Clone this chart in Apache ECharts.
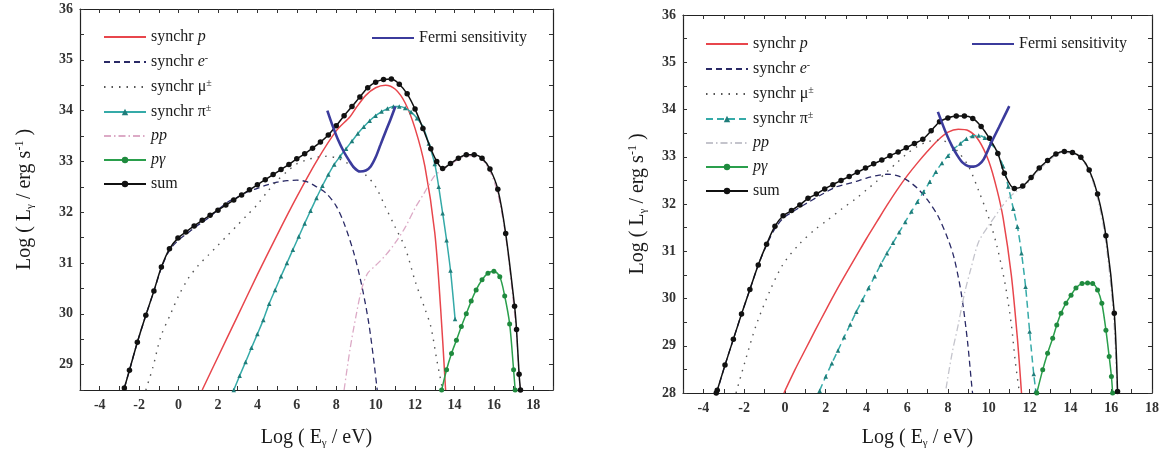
<!DOCTYPE html>
<html>
<head>
<meta charset="utf-8">
<script src="https://cdn.jsdelivr.net/npm/echarts@6/dist/echarts.min.js"></script>
<style>html,body{margin:0;padding:0;background:#fff;}#c{width:1164px;height:459px;}</style>
</head>
<body>
<div id="c"></div>
<script>
// ---------- LEFT PANEL DATA ----------
const L_synchrP = [[1.2,28.5],[2,29.15],[3,29.96],[4,30.77],[5,31.55],[6,32.3],[7,33.0],[8,33.6],[8.7,33.88],[9,34.05],[9.5,34.3],[10,34.45],[10.5,34.5],[11,34.42],[11.5,34.15],[12,33.65],[12.5,32.9],[13,31.6],[13.3,30.1],[13.55,28.5]];
const L_synchrE = [[-2.75,28.54],[-2.49,28.89],[-2.09,29.44],[-1.66,29.97],[-1.25,30.45],[-0.87,30.9],[-0.46,31.25],[0,31.45],[0.5,31.6],[1,31.75],[1.5,31.88],[2,32.05],[2.5,32.2],[3,32.3],[3.5,32.4],[4,32.47],[4.5,32.54],[5,32.59],[5.5,32.62],[6,32.63],[6.5,32.6],[7,32.5],[7.5,32.37],[8,32.12],[8.4,31.78],[8.9,31.19],[9.3,30.55],[9.65,29.82],[9.9,29.1],[10.08,28.5]];
const L_synchrMu = [[-1.66,28.5],[-1.3,28.95],[-0.9,29.55],[-0.4,30.0],[0,30.35],[0.5,30.7],[1,30.95],[1.5,31.15],[2,31.35],[2.5,31.55],[3,31.75],[3.5,31.95],[4,32.15],[4.5,32.4],[5,32.62],[5.5,32.8],[6,32.95],[6.5,33.03],[7,33.08],[7.5,33.1],[8,33.07],[8.5,32.98],[9,32.85],[9.5,32.73],[10,32.5],[10.5,32.1],[11,31.7],[11.5,31.3],[12,30.65],[12.5,30.1],[12.8,29.75],[13.1,29.1],[13.4,28.5]];
const L_synchrPi = [[2.8,28.5],[3.1,28.78],[3.4,29.05],[3.7,29.33],[4.0,29.6],[4.3,29.88],[4.6,30.2],[4.9,30.47],[5.2,30.74],[5.5,31.0],[5.8,31.26],[6.1,31.52],[6.4,31.78],[6.7,32.03],[7.0,32.28],[7.3,32.52],[7.6,32.74],[7.9,32.94],[8.2,33.1],[8.5,33.25],[8.8,33.4],[9.1,33.55],[9.4,33.68],[9.7,33.8],[10.0,33.9],[10.3,33.98],[10.6,34.04],[10.9,34.08],[11.2,34.08],[11.5,34.05],[11.8,33.97],[12.1,33.85],[12.4,33.68],[12.7,33.35],[13.0,32.95],[13.2,32.5],[13.4,31.98],[13.6,31.45],[13.8,30.85],[14.03,29.9]];
const L_pp = [[8.4,28.5],[8.7,29.3],[9.0,29.95],[9.3,30.5],[9.6,30.8],[10,30.95],[10.5,31.15],[11,31.4],[11.5,31.7],[12,32.08],[12.5,32.4],[13,32.72],[13.4,32.84],[13.8,32.94],[14.2,33.04],[14.6,33.11],[15,33.11],[15.4,33.04],[15.8,32.81],[16.2,32.36],[16.6,31.53],[17.0,30.2],[17.15,29.6],[17.28,28.8],[17.33,28.5]];
const L_pGamma = [[13.35,28.5],[13.6,28.9],[13.85,29.22],[14.1,29.48],[14.35,29.75],[14.6,30.0],[14.85,30.25],[15.1,30.47],[15.4,30.67],[15.7,30.8],[16.0,30.84],[16.3,30.73],[16.55,30.35],[16.8,29.8],[17.0,28.9],[17.08,28.5]];
const L_sum = [[-2.75,28.54],[-2.49,28.89],[-2.09,29.44],[-1.66,29.97],[-1.25,30.45],[-0.87,30.92],[-0.46,31.28],[-0.03,31.49],[0.37,31.61],[0.79,31.73],[1.2,31.84],[1.6,31.94],[2.0,32.04],[2.4,32.14],[2.8,32.24],[3.2,32.34],[3.6,32.44],[4.0,32.54],[4.4,32.64],[4.8,32.74],[5.2,32.84],[5.6,32.94],[6.0,33.05],[6.4,33.15],[6.8,33.26],[7.2,33.38],[7.6,33.52],[8.0,33.7],[8.4,33.9],[8.8,34.08],[9.2,34.27],[9.6,34.45],[10.0,34.56],[10.4,34.61],[10.8,34.62],[11.2,34.52],[11.6,34.33],[12.0,34.03],[12.4,33.65],[12.8,33.25],[13.1,33.0],[13.4,32.86],[13.8,32.96],[14.2,33.06],[14.6,33.13],[15.0,33.13],[15.4,33.06],[15.8,32.85],[16.2,32.45],[16.6,31.58],[17.05,30.15],[17.15,29.69],[17.28,28.81],[17.35,28.5]];
const L_fermi = [[7.55,34.0],[7.8,33.72],[8.1,33.42],[8.4,33.18],[8.65,33.02],[8.9,32.88],[9.2,32.8],[9.5,32.82],[9.75,32.9],[10.0,33.08],[10.25,33.33],[10.5,33.58],[10.75,33.82],[11.0,34.08]];

// ---------- RIGHT PANEL DATA ----------
const R_synchrP = [[-0.05,28.0],[0.5,28.5],[1,28.92],[1.5,29.34],[2,29.75],[2.5,30.15],[3,30.53],[3.5,30.9],[4,31.27],[4.5,31.62],[5,31.97],[5.5,32.3],[6,32.6],[6.5,32.87],[7,33.12],[7.5,33.35],[8,33.52],[8.5,33.58],[9,33.55],[9.5,33.35],[10,32.9],[10.4,32.3],[10.7,31.7],[11.1,30.5],[11.4,29.15],[11.6,28.0]];
const R_synchrE = [[-3.35,28.0],[-2.94,28.59],[-2.53,29.14],[-2.13,29.67],[-1.72,30.19],[-1.31,30.71],[-0.9,31.13],[-0.49,31.48],[-0.09,31.7],[0.32,31.82],[0.73,31.93],[1.2,32.05],[1.8,32.2],[2.5,32.36],[3,32.42],[3.5,32.48],[4,32.55],[4.5,32.6],[5,32.63],[5.5,32.6],[6,32.5],[6.5,32.33],[7,32.08],[7.5,31.75],[8,31.25],[8.3,30.85],[8.65,30.1],[8.95,29.1],[9.15,28.2],[9.2,28.0]];
const R_synchrMu = [[-2.4,28.0],[-1.9,28.75],[-1.4,29.45],[-0.75,30.15],[-0.1,30.72],[0.7,31.15],[1.5,31.47],[2,31.63],[2.8,31.9],[3.5,32.12],[4,32.3],[4.5,32.48],[5,32.68],[5.5,32.88],[6,33.07],[6.5,33.22],[7,33.32],[7.5,33.35],[8,33.3],[8.5,33.1],[9,32.8],[9.5,32.28],[10,31.7],[10.4,31.1],[10.8,30.3],[11.1,29.45],[11.3,28.65],[11.5,28.0]];
const R_synchrPi = [[1.7,28.05],[2.0,28.35],[2.3,28.63],[2.6,28.9],[2.9,29.18],[3.2,29.45],[3.5,29.72],[3.8,29.97],[4.1,30.22],[4.4,30.47],[4.7,30.72],[5.0,30.96],[5.3,31.18],[5.6,31.4],[5.9,31.62],[6.2,31.84],[6.5,32.05],[6.8,32.26],[7.1,32.47],[7.4,32.68],[7.7,32.87],[8.0,33.02],[8.3,33.17],[8.6,33.28],[8.9,33.38],[9.2,33.44],[9.5,33.45],[9.8,33.4],[10.1,33.28],[10.4,33.1],[10.7,32.8],[10.95,32.37],[11.2,31.9],[11.4,31.52],[11.6,30.96],[11.8,30.25],[12.0,29.3],[12.2,28.4],[12.3,28.05]];
const R_pp = [[7.9,28.1],[8.2,28.85],[8.5,29.45],[8.8,30.1],[9.1,30.6],[9.5,31.2],[10.0,31.55],[10.5,31.86],[11.0,32.14],[11.3,32.25],[11.7,32.36],[12.1,32.54],[12.5,32.74],[12.9,32.9],[13.3,33.04],[13.7,33.09],[14.1,33.07],[14.5,32.97],[14.9,32.7],[15.3,32.18],[15.7,31.3],[16.1,29.7],[16.3,28.0]];
const R_pGamma = [[12.35,28.0],[12.64,28.49],[12.88,28.84],[13.13,29.16],[13.33,29.44],[13.54,29.69],[13.78,29.9],[14.03,30.07],[14.27,30.22],[14.57,30.32],[14.84,30.33],[15.09,30.32],[15.33,30.18],[15.54,29.9],[15.74,29.33],[15.9,28.77],[16.01,28.35],[16.07,28.0]];
const R_sum = [[-3.37,28.0],[-3.32,28.06],[-2.94,28.59],[-2.53,29.14],[-2.13,29.67],[-1.72,30.19],[-1.31,30.71],[-0.9,31.15],[-0.49,31.53],[-0.09,31.75],[0.32,31.86],[0.73,31.98],[1.13,32.12],[1.54,32.21],[1.95,32.32],[2.35,32.41],[2.75,32.5],[3.15,32.58],[3.55,32.67],[3.95,32.76],[4.35,32.85],[4.75,32.93],[5.15,33.02],[5.55,33.1],[5.95,33.19],[6.35,33.28],[6.76,33.37],[7.17,33.55],[7.58,33.74],[7.99,33.82],[8.4,33.86],[8.8,33.86],[9.21,33.81],[9.62,33.64],[10.03,33.39],[10.44,33.07],[10.76,32.65],[11.25,32.33],[11.66,32.38],[12.07,32.56],[12.47,32.76],[12.88,32.92],[13.29,33.06],[13.7,33.11],[14.1,33.09],[14.51,32.99],[14.92,32.72],[15.33,32.21],[15.74,31.33],[16.15,29.69],[16.31,28.03]];
const R_fermi = [[7.5,33.95],[7.9,33.5],[8.2,33.22],[8.45,33.03],[8.7,32.88],[9.0,32.8],[9.25,32.79],[9.5,32.83],[9.75,32.95],[10.1,33.28],[10.5,33.63],[10.75,33.85],[11.0,34.07]];

const legendNames = ['synchr p','synchr e','synchr μ','synchr π','pp','pγ','sum'];
const markerless = ['synchr p','synchr e','synchr μ','pp','Fermi sensitivity'];
const xLabelsShown = [-4,-2,0,2,4,6,8,10,12,14,16,18];

// ---------- STYLE / BUILD ----------
const SERIF = 'Liberation Serif';
const richFmt = {
  'synchr p': '{n|synchr }{i|p}',
  'synchr e': '{n|synchr }{i|e}{s|-}',
  'synchr μ': '{n|synchr μ}{s|±}',
  'synchr π': '{n|synchr π}{s|±}',
  'pp': '{i|pp}',
  'pγ': '{i|pγ}',
  'sum': '{n|sum}',
  'Fermi sensitivity': '{n|Fermi sensitivity}'
};
const rich = {
  n: {fontFamily: SERIF, fontSize: 16, color: '#1a1a1a', lineHeight: 18},
  i: {fontFamily: SERIF, fontSize: 16, fontStyle: 'italic', color: '#1a1a1a', lineHeight: 18},
  s: {fontFamily: SERIF, fontSize: 10, color: '#1a1a1a', lineHeight: 10, verticalAlign: 'top'}
};
const strip = n => n.replace(/^R:/, '');

function xAxes(gi, max, nameGap) {
  const base = {
    type: 'value', gridIndex: gi, min: -5, max: max, interval: 1,
    axisLine: {show: true, onZero: false, lineStyle: {color: '#222', width: 1.2}},
    axisTick: {show: true, inside: true, length: 4, lineStyle: {color: '#333'}},
    splitLine: {show: false}
  };
  return [
    Object.assign({}, base, {position: 'bottom',
      name: '{n|Log ( E}{b|γ}{n| / eV)}', nameLocation: 'middle', nameGap: nameGap,
      nameTextStyle: {rich: {n: {fontFamily: SERIF, fontSize: 20, color: '#1a1a1a', lineHeight: 22}, b: {fontFamily: SERIF, fontSize: 11, color: '#1a1a1a', lineHeight: 11, verticalAlign: 'bottom'}}},
      axisLabel: {margin: 8, fontFamily: SERIF, fontSize: 14, fontWeight: 'bold', color: '#333',
        formatter: v => xLabelsShown.indexOf(v) >= 0 ? String(v) : ''}}),
    Object.assign({}, base, {position: 'top', axisLabel: {show: false}})
  ];
}
function yAxes(gi, min, nameGap) {
  const base = {
    type: 'value', gridIndex: gi, min: min, max: 36, interval: 0.5,
    axisLine: {show: true, onZero: false, lineStyle: {color: '#222', width: 1.2}},
    axisTick: {show: true, inside: true, length: 4, lineStyle: {color: '#333'}},
    splitLine: {show: false}
  };
  return [
    Object.assign({}, base, {position: 'left',
      name: '{n|Log ( L}{b|γ}{n| / erg s}{s|-1}{n| )}', nameLocation: 'middle', nameGap: nameGap, nameRotate: 90,
      nameTextStyle: {rich: {n: {fontFamily: SERIF, fontSize: 20, color: '#1a1a1a', lineHeight: 22}, b: {fontFamily: SERIF, fontSize: 11, color: '#1a1a1a', lineHeight: 11, verticalAlign: 'bottom'}, s: {fontFamily: SERIF, fontSize: 12, color: '#1a1a1a', lineHeight: 12, verticalAlign: 'top'}}},
      axisLabel: {margin: 7, fontFamily: SERIF, fontSize: 14, fontWeight: 'bold', color: '#333',
        formatter: v => Number.isInteger(v) ? String(v) : ''}}),
    Object.assign({}, base, {position: 'right', axisLabel: {show: false}})
  ];
}

function panelSeries(prefix, xi, yi, d, piDashed, ppColor) {
  const common = {type: 'line', xAxisIndex: xi, yAxisIndex: yi, smooth: 0.3, clip: true, animation: false};
  const none = {color: 'rgba(0,0,0,0)', borderWidth: 0, borderColor: 'rgba(0,0,0,0)'};
  return [
    Object.assign({}, common, {name: prefix + 'synchr p', data: d.p, symbol: 'none', lineStyle: {color: '#e8464c', width: 1.5}, itemStyle: none, z: 3}),
    Object.assign({}, common, {name: prefix + 'synchr e', data: d.e, symbol: 'none', lineStyle: {color: '#2a2a66', width: 1.3, type: [6, 4]}, itemStyle: none}),
    Object.assign({}, common, {name: prefix + 'synchr μ', data: d.mu, symbol: 'none', lineStyle: {color: '#555', width: 1.4, type: [1.5, 6]}, itemStyle: none}),
    Object.assign({}, common, {name: prefix + 'synchr π', data: d.pi, symbol: 'triangle', symbolSize: 4.5, showSymbol: true,
      lineStyle: {color: '#35aaa8', width: 1.5, type: piDashed ? [7, 4] : 'solid'}, itemStyle: {color: '#1f7d7a'}, z: 4}),
    Object.assign({}, common, {name: prefix + 'pp', data: d.pp, symbol: 'none', lineStyle: {color: ppColor, width: 1.3, type: [7, 3, 1.5, 3]}, itemStyle: none}),
    Object.assign({}, common, {name: prefix + 'pγ', data: d.pg, symbol: 'circle', symbolSize: 5, showSymbol: true,
      lineStyle: {color: '#2a9f4c', width: 1.5}, itemStyle: {color: '#1f8a3e'}, z: 4}),
    Object.assign({}, common, {name: prefix + 'sum', data: d.sum, symbol: 'circle', symbolSize: 5.5, showSymbol: true,
      lineStyle: {color: '#111', width: 1.5}, itemStyle: {color: '#111'}, z: 5}),
    Object.assign({}, common, {name: prefix + 'Fermi sensitivity', data: d.fermi, symbol: 'none', lineStyle: {color: '#3b3b9c', width: 2.6}, itemStyle: none, z: 6})
  ];
}

function legendItem(prefix, n) {
  const it = {name: prefix + n};
  if (markerless.indexOf(n) >= 0) it.itemStyle = {color: 'rgba(0,0,0,0)', borderWidth: 0, borderColor: 'rgba(0,0,0,0)', opacity: 0};
  return it;
}
function legendBlock(prefix, left, top) {
  return {
    orient: 'vertical', left: left, top: top, itemWidth: 42, itemHeight: 8, itemGap: 8,
    data: legendNames.map(n => legendItem(prefix, n)), selectedMode: false,
    formatter: n => richFmt[strip(n)], textStyle: {rich: rich}
  };
}
function fermiLegend(prefix, left, top) {
  return {
    orient: 'vertical', left: left, top: top, itemWidth: 42, itemHeight: 8, itemGap: 6,
    data: [legendItem(prefix, 'Fermi sensitivity')], selectedMode: false,
    formatter: n => richFmt[strip(n)], textStyle: {rich: rich}
  };
}

const chart = echarts.init(document.getElementById('c'), null, {renderer: 'canvas'});
chart.setOption({
  backgroundColor: '#fff',
  animation: false,
  grid: [
    {left: 80, top: 9, width: 473, height: 381, show: false},
    {left: 683, top: 15, width: 469, height: 378, show: false}
  ],
  xAxis: [].concat(xAxes(0, 19, 37), xAxes(1, 18, 34)),
  yAxis: [].concat(yAxes(0, 28.5, 44), yAxes(1, 28, 34)),
  legend: [
    legendBlock('', 98, 24), fermiLegend('', 366, 25),
    legendBlock('R:', 700, 31), fermiLegend('R:', 966, 31)
  ],
  series: [].concat(
    panelSeries('', 0, 0, {p: L_synchrP, e: L_synchrE, mu: L_synchrMu, pi: L_synchrPi, pp: L_pp, pg: L_pGamma, sum: L_sum, fermi: L_fermi}, false, '#dcaac6'),
    panelSeries('R:', 2, 2, {p: R_synchrP, e: R_synchrE, mu: R_synchrMu, pi: R_synchrPi, pp: R_pp, pg: R_pGamma, sum: R_sum, fermi: R_fermi}, true, '#c4c4cc')
  )
});
</script>
</body>
</html>
